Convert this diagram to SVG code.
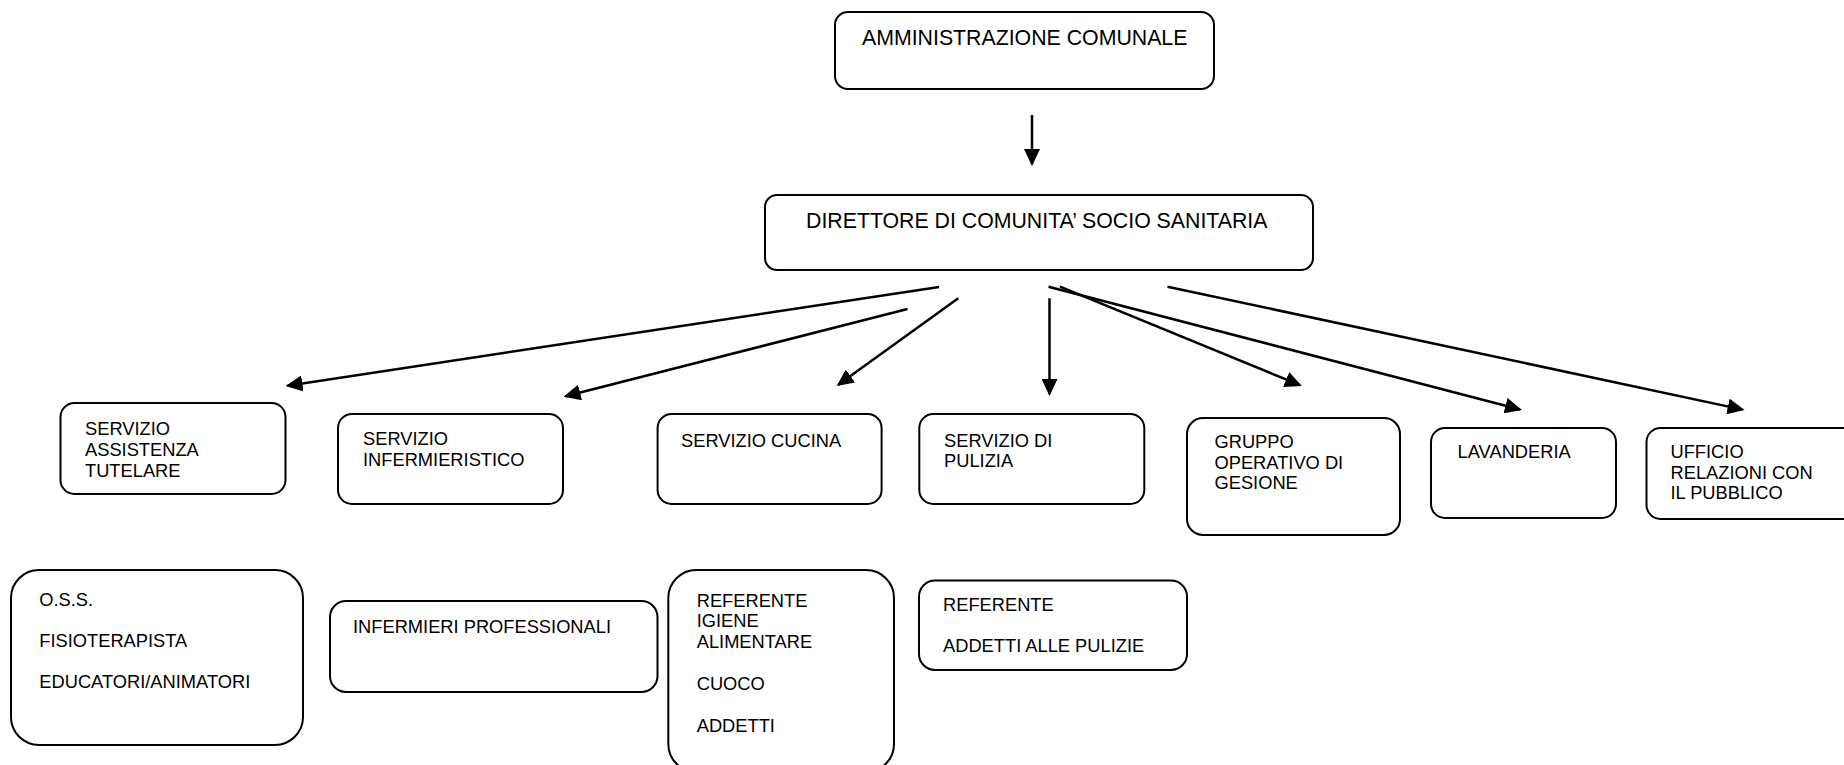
<svg xmlns="http://www.w3.org/2000/svg" width="1844" height="765" viewBox="0 0 1844 765">
<style>
.box{fill:#fff;stroke:#000;stroke-width:2}
.t{font-family:"Liberation Sans",Arial,sans-serif;font-size:18.3px;fill:#000}
.tl{font-family:"Liberation Sans",Arial,sans-serif;font-size:21.3px;fill:#000}
.c{stroke:#000;stroke-width:2.5;fill:none;marker-end:url(#ah)}
</style>
<defs>
<marker id="ah" markerUnits="userSpaceOnUse" viewBox="0 0 17 16" markerWidth="17" markerHeight="16" refX="15" refY="8" orient="auto">
<path d="M0,0 L17,8 L0,16 z" fill="#000"/>
</marker>
</defs>
<rect width="1844" height="765" fill="#fff"/>
<g id="connectors">
<line class="c" x1="1032" y1="115" x2="1032" y2="164"/>
<line class="c" x1="939" y1="287" x2="287.5" y2="385.7"/>
<line class="c" x1="907.5" y1="309" x2="565.5" y2="396.2"/>
<line class="c" x1="958.3" y1="298.3" x2="838.3" y2="384.8"/>
<line class="c" x1="1049.5" y1="298.3" x2="1049.5" y2="394"/>
<line class="c" x1="1060" y1="286.7" x2="1300" y2="385.2"/>
<line class="c" x1="1048.5" y1="286.7" x2="1520" y2="409.5"/>
<line class="c" x1="1167.5" y1="286.7" x2="1742.6" y2="409.6"/>
</g>
<g id="amministrazione">
<rect class="box" x="835" y="12" width="379" height="77" rx="13"/>
<text class="tl" x="862" y="45">AMMINISTRAZIONE COMUNALE</text>
</g>
<g id="direttore">
<rect class="box" x="765" y="195" width="548" height="75" rx="12"/>
<text class="tl" x="806" y="227.5">DIRETTORE DI COMUNITA’ SOCIO SANITARIA</text>
</g>
<g id="assistenza">
<rect class="box" x="60.5" y="403" width="225" height="91" rx="14"/>
<text class="t" x="85" y="435">SERVIZIO</text>
<text class="t" x="85" y="455.7">ASSISTENZA</text>
<text class="t" x="85" y="476.7">TUTELARE</text>
</g>
<g id="infermieristico">
<rect class="box" x="338" y="414" width="225" height="90" rx="14"/>
<text class="t" x="363" y="445">SERVIZIO</text>
<text class="t" x="363" y="465.7">INFERMIERISTICO</text>
</g>
<g id="cucina">
<rect class="box" x="657.6" y="414" width="224" height="90" rx="14"/>
<text class="t" x="681" y="446.7">SERVIZIO CUCINA</text>
</g>
<g id="pulizia">
<rect class="box" x="919.3" y="414" width="225" height="90" rx="14"/>
<text class="t" x="944" y="446.7">SERVIZIO DI</text>
<text class="t" x="944" y="466.7">PULIZIA</text>
</g>
<g id="gruppo">
<rect class="box" x="1187" y="418" width="213" height="117" rx="16"/>
<text class="t" x="1214.5" y="448.3">GRUPPO</text>
<text class="t" x="1214.5" y="469">OPERATIVO DI</text>
<text class="t" x="1214.5" y="489.3">GESIONE</text>
</g>
<g id="lavanderia">
<rect class="box" x="1431" y="428" width="185" height="90" rx="14"/>
<text class="t" x="1457.6" y="458.3">LAVANDERIA</text>
</g>
<g id="urp">
<rect class="box" x="1646.5" y="428" width="214" height="91" rx="14"/>
<text class="t" x="1670.5" y="458.3">UFFICIO</text>
<text class="t" x="1670.5" y="479">RELAZIONI CON</text>
<text class="t" x="1670.5" y="499.3">IL PUBBLICO</text>
</g>
<g id="oss">
<rect class="box" x="11" y="570" width="292" height="175" rx="28"/>
<text class="t" x="39.3" y="605.7">O.S.S.</text>
<text class="t" x="39.3" y="647.3">FISIOTERAPISTA</text>
<text class="t" x="39.3" y="688.3">EDUCATORI/ANIMATORI</text>
</g>
<g id="infermieri">
<rect class="box" x="330" y="601" width="327.5" height="91" rx="16"/>
<text class="t" x="353" y="633">INFERMIERI PROFESSIONALI</text>
</g>
<g id="cucina-staff">
<rect class="box" x="668.3" y="570" width="225.7" height="202" rx="28"/>
<text class="t" x="696.7" y="606.7">REFERENTE</text>
<text class="t" x="696.7" y="627.3">IGIENE</text>
<text class="t" x="696.7" y="648.3">ALIMENTARE</text>
<text class="t" x="696.7" y="690">CUOCO</text>
<text class="t" x="696.7" y="731.7">ADDETTI</text>
</g>
<g id="pulizie-staff">
<rect class="box" x="919" y="580.5" width="268" height="89.5" rx="16"/>
<text class="t" x="943" y="611">REFERENTE</text>
<text class="t" x="943" y="651.5">ADDETTI ALLE PULIZIE</text>
</g>
</svg>
